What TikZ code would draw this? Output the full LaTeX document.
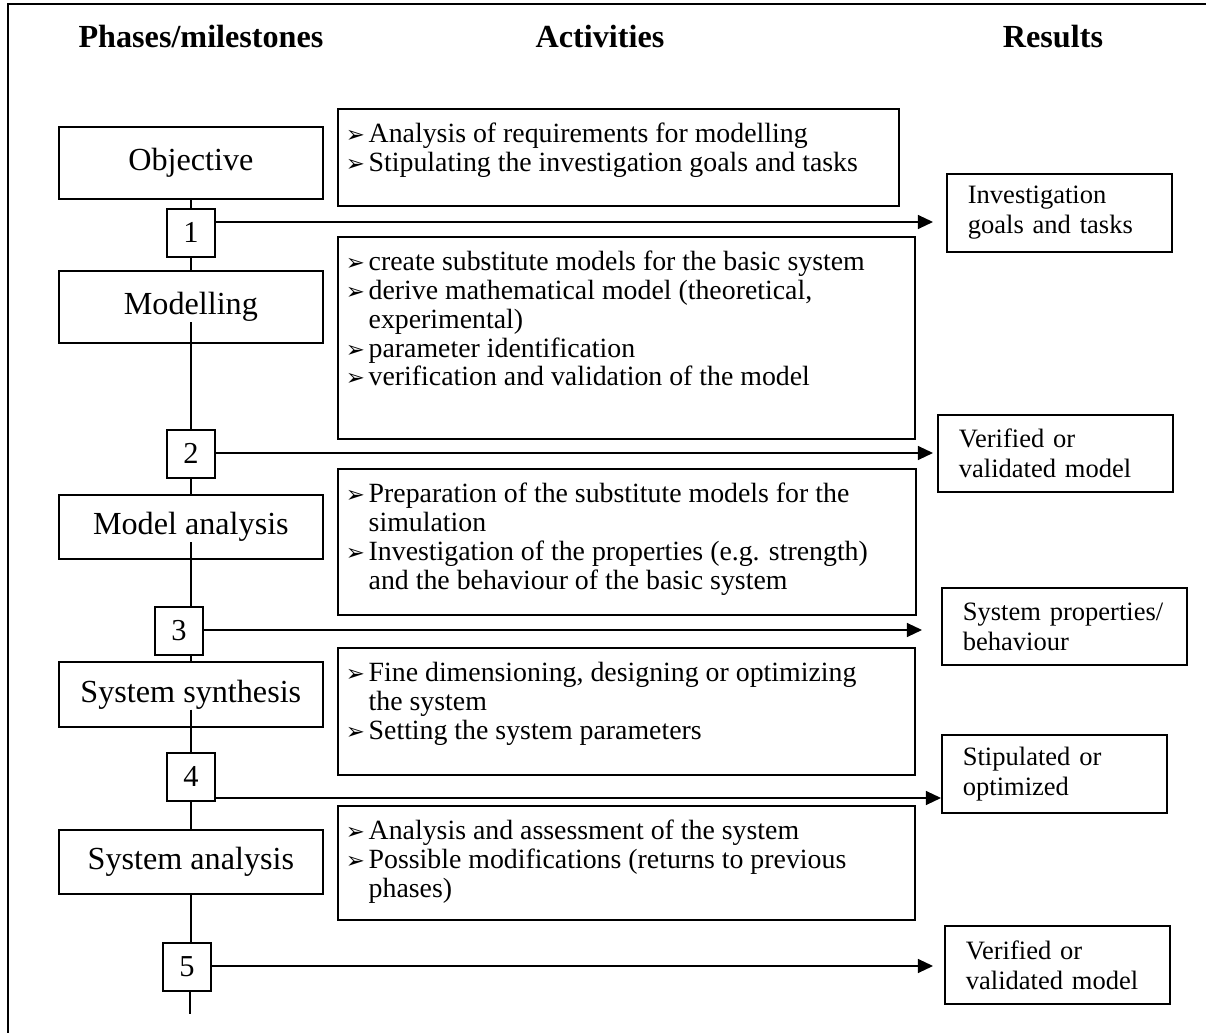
\documentclass[tikz,border=0pt]{standalone}
\usepackage{fontspec}
\setmainfont{Liberation Serif}
\newfontfamily\dingfont{DejaVu Sans}
\usetikzlibrary{arrows.meta}

\newdimen\pxu
\pxu=0.46pt
\newcommand\bul{\strut\makebox[10.5pt][l]{\dingfont\fontsize{10.5}{10.5}\selectfont ➢}}
\newcommand\ind{\hspace*{10.5pt}}
\newcommand\acts[3]{\parbox[t][#2\pxu][t]{#1\pxu}{\raggedright #3}}

\begin{document}
\begin{tikzpicture}[
    x=0.46pt, y=-0.46pt,
    phase/.style={%
      draw, line width=0.8pt,
      anchor=north west,
      inner sep=0pt,
      minimum width=264\pxu,
      font=\fontsize{14.8}{17}\selectfont,
    },
    mile/.style={%
      draw, line width=0.8pt,
      anchor=north west,
      inner sep=0pt,
      minimum width=48\pxu, minimum height=48\pxu,
      font=\fontsize{14}{16}\selectfont,
    },
    actbox/.style={%
      draw, line width=0.8pt,
      anchor=north west,
      inner xsep=8\pxu, inner ysep=14\pxu,
      font=\fontsize{12.8}{13.2}\selectfont,
    },
    result/.style={%
      draw, line width=0.8pt,
      anchor=north west,
      inner xsep=21\pxu, inner ysep=0pt,
      align=left,
      minimum height=78\pxu,
      font=\fontsize{12.2}{13.8}\selectfont,
    },
    head/.style={font=\bfseries\fontsize{14.8}{17}\selectfont},
    link/.style={line width=0.6pt},
    arr/.style={line width=0.6pt, -{Triangle[length=7pt,width=6.5pt]}},
  ]
    \useasboundingbox (0,0) rectangle (1206,1033);
    \draw [line width=0.8pt] (1206,4) -- (8,4) -- (8,1033);

    % column heads
    \node [head] (hPhase) at (201,37) {Phases/milestones};
    \node [head] (hAct) at (600,37) {Activities};
    \node [head] (hRes) at (1053,37) {Results};

    % phases
    \node [phase, minimum height=72\pxu] (obj) at (58,126) {Objective};
    \node [phase, minimum height=72\pxu] (mod) at (58,270) {Modelling};
    \node [phase, minimum height=64\pxu] (ma) at (58,494) {Model analysis};
    \node [phase, minimum height=65\pxu] (ss) at (58,661) {System synthesis};
    \node [phase, minimum height=64\pxu] (sa) at (58,829) {System analysis};

    % milestones
    \node [mile] (m1) at (166,208) {1};
    \node [mile] (m2) at (166,429) {2};
    \node [mile] (m3) at (154,606) {3};
    \node [mile] (m4) at (166,752) {4};
    \node [mile] (m5) at (162,942) {5};
    \coordinate (tail) at (190,1014);

    % activities
    \node [actbox] (a1) at (337,108) {\acts{545}{69}{%
      \bul Analysis of requirements for modelling\\
      \bul Stipulating the investigation goals and tasks}};
    \node [actbox] (a2) at (337,236) {\acts{561}{174}{%
      \bul create substitute models for the basic system\\
      \bul derive mathematical model (theoretical,\\
      \ind experimental)\\
      \bul parameter identification\\
      \bul verification and validation of the model}};
    \node [actbox] (a3) at (337,468) {\acts{562}{118}{%
      \bul Preparation of the substitute models for the\\
      \ind simulation\\
      \bul Investigation of the properties (e.g. strength)\\
      \ind and the behaviour of the basic system}};
    \node [actbox] (a4) at (337,647) {\acts{561}{99}{%
      \bul Fine dimensioning, designing or optimizing\\
      \ind the system\\
      \bul Setting the system parameters}};
    \node [actbox] (a5) at (337,805) {\acts{561}{86}{%
      \bul Analysis and assessment of the system\\
      \bul Possible modifications (returns to previous\\
      \ind phases)}};

    % results
    \node [result, text width=183\pxu] (r1) at (946,173) {Investigation\\goals and tasks};
    \node [result, text width=193\pxu, minimum height=77\pxu] (r2) at (937,414) {Verified or\\validated model};
    \node [result, text width=203\pxu, minimum height=77\pxu] (r3) at (941,587) {System properties/\\behaviour};
    \node [result, text width=183\pxu] (r4) at (941,734) {Stipulated or\\optimized};
    \node [result, text width=183\pxu] (r5) at (944,925) {Verified or\\validated model};

    % chain of phases and milestones
    \draw [link] (obj) -- (m1);
    \draw [link] (m1) -- (mod);
    \draw [link] ([yshift=-3.5pt]mod.base) -- (m2);
    \draw [link] (m2) -- (ma);
    \draw [link] ([yshift=-3.5pt]ma.base) -- (ma.base |- m3.north);
    \draw [link] (m3.south -| ss) -- (ss);
    \draw [link] ([yshift=-3.5pt]ss.base) -- (m4);
    \draw [link] (m4) -- (sa);
    \draw [link] (sa) -- (sa |- m5.north);
    \draw [link] (m5.south -| tail) -- (tail);

    % milestone arrows
    \coordinate (t1) at (933,222);
    \coordinate (t2) at (933,453);
    \coordinate (t3) at (922,630);
    \coordinate (t4) at (941,798);
    \coordinate (t5) at (933,966);
    \draw [arr] (m1.east |- t1) -- (t1);
    \draw [arr] (m2.east |- t2) -- (t2);
    \draw [arr] (m3.east |- t3) -- (t3);
    \draw [arr] (m4.east |- t4) -- (t4);
    \draw [arr] (m5.east |- t5) -- (t5);
\end{tikzpicture}
\end{document}
